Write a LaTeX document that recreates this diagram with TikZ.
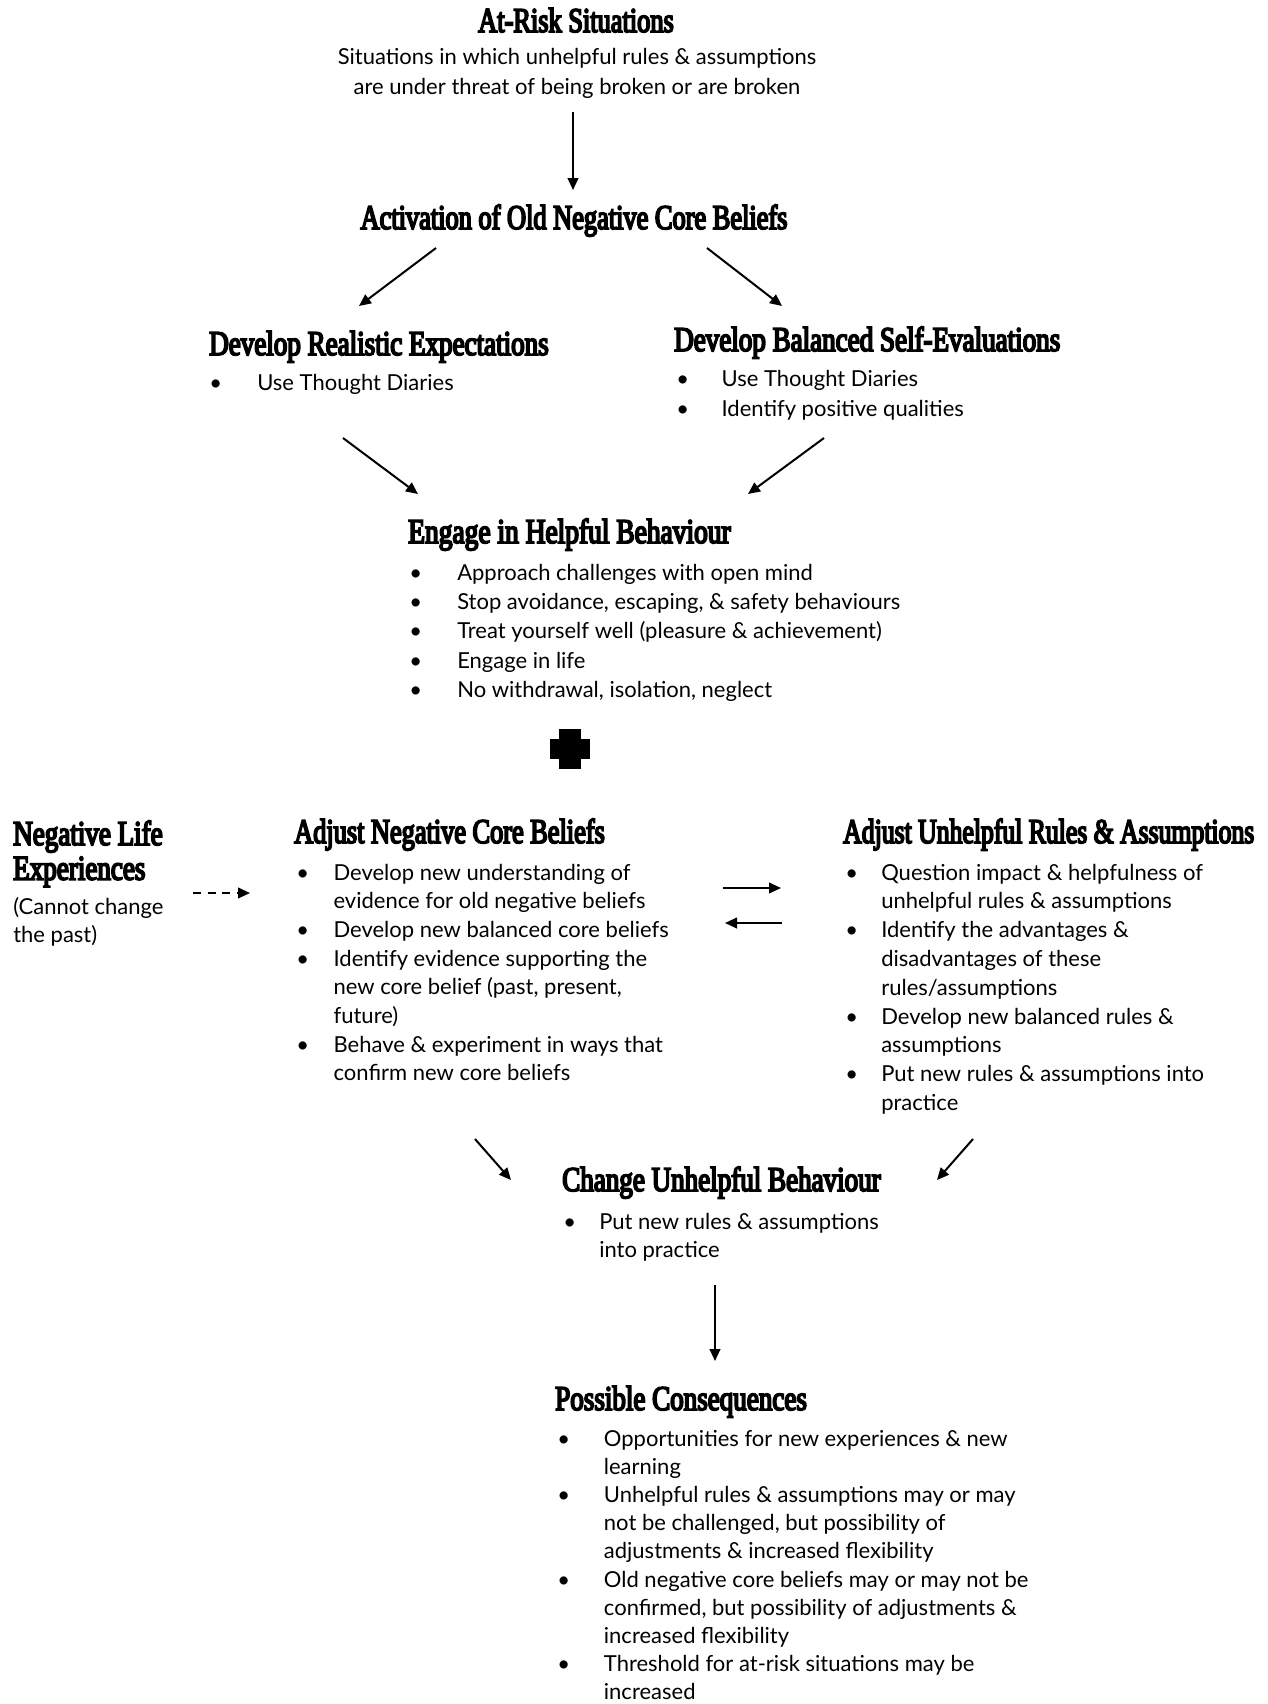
\documentclass[tikz,border=0pt]{standalone}
\usepackage{fontspec}
\setmainfont{Lato}
\newfontfamily\headfont[FakeStretch=0.78,FakeBold=5]{Liberation Serif}
\usetikzlibrary{arrows.meta}
\newcommand\bitem[2]{\makebox[#1][l]{\textbullet}#2}
\newcommand\bcont[2]{\hspace*{#1}#2}
\newenvironment{lns}{\begin{tabular}[t]{@{}l@{}}}{\end{tabular}}
\newenvironment{clns}{\begin{tabular}[t]{@{}c@{}}}{\end{tabular}}
\tikzset{
  head/.style={anchor=base west, inner sep=0pt,
    font=\headfont\fontsize{26}{19.5}\selectfont},
  headc/.style={anchor=base, inner sep=0pt,
    font=\headfont\fontsize{26}{19.5}\selectfont},
  body/.style={anchor=base west, inner sep=0pt,
    font=\fontsize{16.5}{21.3}\selectfont},
  bodyc/.style={anchor=base, inner sep=0pt,
    font=\fontsize{16.5}{22.5}\selectfont},
  conn/.style={line width=1.5pt, -{Triangle[length=9pt,width=8pt]}},
  dconn/.style={conn, dash pattern=on 6pt off 5pt},
}
\begin{document}
\begin{tikzpicture}[x=0.75pt,y=-0.75pt]
\useasboundingbox (0,0) rectangle (1268,1704);

% top
\node[headc] (ars) at (576,32) {\scalebox{0.975}[1]{At-Risk Situations}};
\node[bodyc] (arsb) at (577,64.5) {\begin{clns}Situations in which unhelpful rules \& assumptions\\are under threat of being broken or are broken\end{clns}};
\node[headc] (act) at (574,229) {\scalebox{0.975}[1]{Activation of Old Negative Core Beliefs}};

% develop
\node[head] (rea) at (209,355) {Develop Realistic Expectations};
\node[body] (reab) at (209,390) {\bitem{36pt}{Use Thought Diaries}};
\node[head] (bal) at (674,351) {Develop Balanced Self-Evaluations};
\node[body, font=\fontsize{16.5}{22.8}\selectfont] (balb) at (676,386) {\begin{lns}\bitem{34pt}{Use Thought Diaries}\\\bitem{34pt}{Identify positive qualities}\end{lns}};

% engage
\node[head] (eng) at (408,543) {\scalebox{1.015}[1]{Engage in Helpful Behaviour}};
\node[body, font=\fontsize{16.5}{22}\selectfont] (engb) at (409,580) {\begin{lns}%
\bitem{36pt}{Approach challenges with open mind}\\
\bitem{36pt}{Stop avoidance, escaping, \& safety behaviours}\\
\bitem{36pt}{Treat yourself well (pleasure \& achievement)}\\
\bitem{36pt}{Engage in life}\\
\bitem{36pt}{No withdrawal, isolation, neglect}\end{lns}};

% plus
\fill (559,729) rectangle (581,769);
\fill (550,739) rectangle (590,759);

% negative life
\node[head] (nle) at (13,845) {\vtop{\baselineskip=26pt\lineskiplimit=-100pt\hbox{Negative Life}\hbox{Experiences}}};
\node[body] (nleb) at (13,914) {\begin{lns}(Cannot change\\the past)\end{lns}};

% adjust negative
\node[head] (anc) at (294,843) {\scalebox{0.973}[1]{Adjust Negative Core Beliefs}};
\node[body, font=\fontsize{16.5}{21.5}\selectfont] (ancb) at (296,880) {\begin{lns}%
\bitem{28pt}{Develop new understanding of}\\
\bcont{28pt}{evidence for old negative beliefs}\\
\bitem{28pt}{Develop new balanced core beliefs}\\
\bitem{28pt}{Identify evidence supporting the}\\
\bcont{28pt}{new core belief (past, present,}\\
\bcont{28pt}{future)}\\
\bitem{28pt}{Behave \& experiment in ways that}\\
\bcont{28pt}{confirm new core beliefs}\end{lns}};

% adjust unhelpful
\node[head] (aur) at (843,843) {\scalebox{0.95}[1]{Adjust Unhelpful Rules \& Assumptions}};
\node[body, font=\fontsize{16.5}{21.6}\selectfont] (aurb) at (845,880) {\begin{lns}%
\bitem{27pt}{Question impact \& helpfulness of}\\
\bcont{27pt}{unhelpful rules \& assumptions}\\
\bitem{27pt}{Identify the advantages \&}\\
\bcont{27pt}{disadvantages of these}\\
\bcont{27pt}{rules/assumptions}\\
\bitem{27pt}{Develop new balanced rules \&}\\
\bcont{27pt}{assumptions}\\
\bitem{27pt}{Put new rules \& assumptions into}\\
\bcont{27pt}{practice}\end{lns}};

% change
\node[head] (chg) at (562,1191) {Change Unhelpful Behaviour};
\node[body] (chgb) at (563,1229) {\begin{lns}%
\bitem{27pt}{Put new rules \& assumptions}\\
\bcont{27pt}{into practice}\end{lns}};

% possible
\node[head] (pos) at (555,1410) {Possible Consequences};
\node[body, font=\fontsize{16.5}{21.15}\selectfont] (posb) at (557,1446) {\begin{lns}%
\bitem{35pt}{Opportunities for new experiences \& new}\\
\bcont{35pt}{learning}\\
\bitem{35pt}{Unhelpful rules \& assumptions may or may}\\
\bcont{35pt}{not be challenged, but possibility of}\\
\bcont{35pt}{adjustments \& increased flexibility}\\
\bitem{35pt}{Old negative core beliefs may or may not be}\\
\bcont{35pt}{confirmed, but possibility of adjustments \&}\\
\bcont{35pt}{increased flexibility}\\
\bitem{35pt}{Threshold for at-risk situations may be}\\
\bcont{35pt}{increased}\end{lns}};

% arrow end points
\coordinate (a1s) at (573,112); \coordinate (a1e) at (573,190);
\coordinate (a2s) at (436,248); \coordinate (a2e) at (359,306);
\coordinate (a3s) at (707,248); \coordinate (a3e) at (782,306);
\coordinate (a4s) at (343,438); \coordinate (a4e) at (418,494);
\coordinate (a5s) at (824,438); \coordinate (a5e) at (748,494);
\coordinate (dls) at (193,893); \coordinate (dle) at (250,893);
\coordinate (rrs) at (723,888); \coordinate (rre) at (781,888);
\coordinate (lls) at (782,923); \coordinate (lle) at (725,923);
\coordinate (a6s) at (475,1139); \coordinate (a6e) at (511,1180);
\coordinate (a7s) at (973,1139); \coordinate (a7e) at (937,1180);
\coordinate (a8s) at (715,1285); \coordinate (a8e) at (715,1361);

\draw[conn] (a1s) -- (a1e);
\draw[conn] (a2s) -- (a2e);
\draw[conn] (a3s) -- (a3e);
\draw[conn] (a4s) -- (a4e);
\draw[conn] (a5s) -- (a5e);
\draw[dconn] (dls) -- (dle);
\draw[conn] (rrs) -- (rre);
\draw[conn] (lls) -- (lle);
\draw[conn] (a6s) -- (a6e);
\draw[conn] (a7s) -- (a7e);
\draw[conn] (a8s) -- (a8e);
\end{tikzpicture}
\end{document}
